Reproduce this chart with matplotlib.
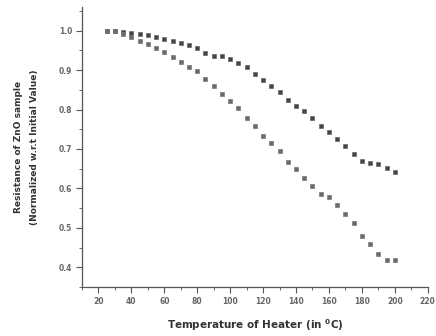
import matplotlib
matplotlib.use("Agg")
import matplotlib.pyplot as plt
from matplotlib.ticker import MultipleLocator

# temperature of heater (deg C)
temp = [25, 30, 35, 40, 45, 50, 55, 60, 65, 70, 75, 80, 85, 90, 95, 100,
        105, 110, 115, 120, 125, 130, 135, 140, 145, 150, 155, 160, 165,
        170, 175, 180, 185, 190, 195, 200]

# normalized resistance, upper curve
res_upper = [1.0, 1.0, 0.997, 0.995, 0.992, 0.988, 0.985, 0.979, 0.973,
             0.970, 0.963, 0.957, 0.944, 0.936, 0.936, 0.927, 0.919, 0.908,
             0.891, 0.874, 0.859, 0.844, 0.825, 0.810, 0.797, 0.779, 0.759,
             0.742, 0.726, 0.708, 0.688, 0.669, 0.664, 0.661, 0.652, 0.641]

# normalized resistance, lower curve
res_lower = [1.0, 0.998, 0.992, 0.985, 0.975, 0.966, 0.957, 0.945, 0.933,
             0.921, 0.908, 0.897, 0.878, 0.861, 0.840, 0.822, 0.803, 0.778,
             0.759, 0.733, 0.714, 0.696, 0.668, 0.648, 0.627, 0.607, 0.586,
             0.579, 0.557, 0.534, 0.513, 0.479, 0.459, 0.434, 0.419, 0.419]

xticks = [20, 40, 60, 80, 100, 120, 140, 160, 180, 200, 220]
yticks = [0.4, 0.5, 0.6, 0.7, 0.8, 0.9, 1.0]

fig = plt.figure(figsize=(4.36, 3.36), dpi=100)
ax = fig.add_axes([0.188, 0.146, 0.793, 0.833])

ax.plot(temp, res_upper, linestyle="none", marker="s", markersize=2.4,
        color="#444444", markeredgecolor="#666666", markeredgewidth=0.5)
ax.plot(temp, res_lower, linestyle="none", marker="s", markersize=2.4,
        color="#6a6a6a", markeredgecolor="#777777", markeredgewidth=0.5)

ax.set_xlim(10, 220)
ax.set_ylim(0.35, 1.06)
ax.set_xticks(xticks)
ax.set_yticks(yticks)
ax.set_xticklabels([str(t) for t in xticks])
ax.set_yticklabels(["%.1f" % v for v in yticks])
ax.xaxis.set_minor_locator(MultipleLocator(10))
ax.yaxis.set_minor_locator(MultipleLocator(0.05))

ax.spines["top"].set_visible(False)
ax.spines["right"].set_visible(False)
for s in ["left", "bottom"]:
    ax.spines[s].set_color("#555555")
    ax.spines[s].set_linewidth(0.9)

ax.tick_params(which="major", direction="out", length=4, width=0.8,
               colors="#555555", labelsize=5.5, pad=3)
ax.tick_params(which="minor", direction="out", length=2, width=0.6,
               colors="#555555")
for lab in ax.get_xticklabels() + ax.get_yticklabels():
    lab.set_fontweight("bold")
    lab.set_color("#666666")

ax.set_xlabel("Temperature of Heater (in $\\mathbf{^0}$C)", fontsize=7.5,
              fontweight="bold", color="#333333", labelpad=8)
ax.set_ylabel("Resistance of ZnO sample\n(Normalized w.r.t Initial Value)",
              fontsize=6.5, fontweight="bold", color="#333333", labelpad=14,
              linespacing=2.0)

fig.savefig("out.png", dpi=100)
